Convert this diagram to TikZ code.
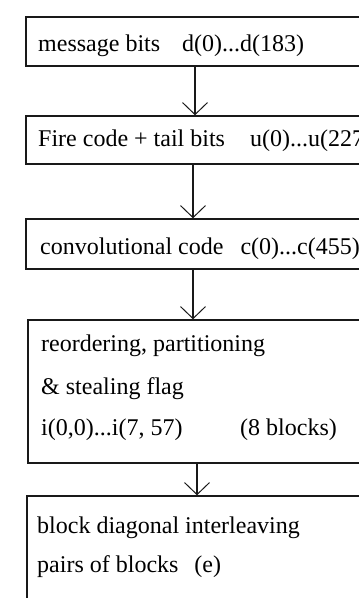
\documentclass[tikz,border=0pt]{standalone}
\usepackage{fontspec}
\setmainfont{Liberation Serif}
\usetikzlibrary{arrows.meta}
\tikzset{
  box/.style={draw=black!90, line width=1.5pt, rectangle, inner sep=0pt, minimum width=338pt},
  txt/.style={anchor=base west, inner sep=0pt, font=\fontsize{24}{28}\selectfont, text=black},
  arr/.style={draw=black!90, line width=1.4pt, -{Straight Barb[length=12pt, width=25pt, line width=1pt]}}
}
\begin{document}
\begin{tikzpicture}[x=1pt,y=-1pt]
\useasboundingbox (0,0) rectangle (359,598);
\fill[white] (0,0) rectangle (359,598);
\clip (0,0) rectangle (359,598);
% boxes
\node[box, minimum height=49pt] (b1) at (195,41.5) {};
\node[box, minimum height=48pt] (b2) at (195,140) {};
\node[box, minimum height=50pt] (b3) at (195,244) {};
\node[box, minimum height=143pt] (b4) at (197,391.5) {};
\node[box, minimum height=150pt] (b5) at (196,571) {};
% texts
\node[txt] (t1) at (38,51) {message bits\hspace{22pt}d(0)...d(183)};
\node[txt] (t2) at (38,146) {Fire code + tail bits\hspace{25pt}u(0)...u(227)};
\node[txt] (t3) at (40,254) {convolutional code\hspace{17pt}c(0)...c(455)};
\node[txt] (t4a) at (41,351) {reordering, partitioning};
\node[txt] (t4b) at (41,394) {\& stealing flag};
\node[txt] (t4c) at (41,435) {i(0,0)...i(7, 57)};
\node[txt] (t4d) at (240,435) {(8 blocks)};
\node[txt] (t5a) at (37,533) {block diagonal interleaving};
\node[txt] (t5b) at (37,572) {pairs of blocks\hspace{16pt}(e)};
% arrows
\draw[arr] (b1.south) -- (b2.north);
\draw[arr] ([xshift=-2pt]b2.south) -- ([xshift=-2pt]b3.north);
\draw[arr] ([xshift=-2pt]b3.south) -- ([xshift=-4pt]b4.north);
\draw[arr] (b4.south) -- ([xshift=1pt]b5.north);
\end{tikzpicture}
\end{document}
